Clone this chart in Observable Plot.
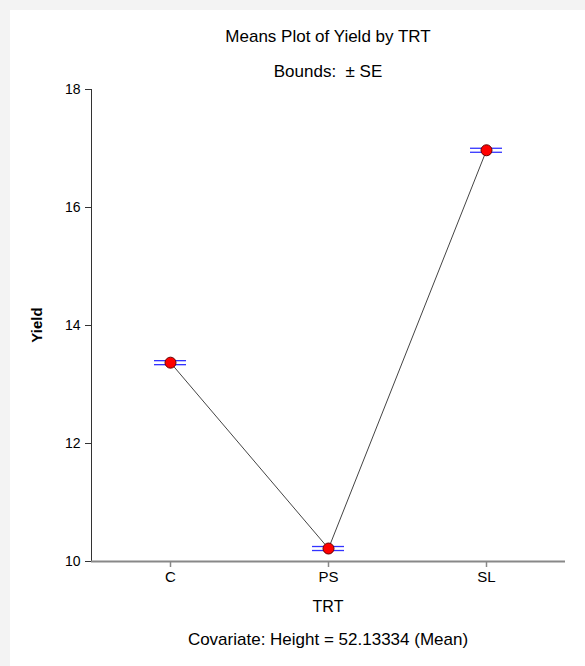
<!DOCTYPE html>
<html><head><meta charset="utf-8">
<script src="https://cdn.jsdelivr.net/npm/d3@7"></script>
<script src="https://cdn.jsdelivr.net/npm/@observablehq/plot@0.6"></script>
<style>
body{margin:0;background:#f3f3f3;font-family:"Liberation Sans",Arial,sans-serif;}
#page{position:relative;width:585px;height:666px;overflow:hidden;}
#panel{position:absolute;left:10px;top:10px;width:575px;height:656px;background:#fff;}
.t{position:absolute;left:91px;width:474px;text-align:center;color:#000;line-height:20px;white-space:nowrap;}
#chart{position:absolute;left:0;top:0;}
#ylab{position:absolute;left:37px;top:325px;transform:translate(-50%,-50%) rotate(-90deg);font-size:15px;font-weight:bold;line-height:18px;white-space:nowrap;}
</style></head><body>
<div id="page">
<div id="panel"></div>
<div id="chart"></div>
<div class="t" style="top:27px;font-size:17px">Means Plot of Yield by TRT</div>
<div class="t" style="top:62px;font-size:17px">Bounds:&nbsp; ± SE</div>
<div class="t" style="top:597px;font-size:16px">TRT</div>
<div class="t" style="top:630px;font-size:17px">Covariate: Height = 52.13334 (Mean)</div>
<div id="ylab">Yield</div>
</div>
<script>
const categories = ["C", "PS", "SL"];
const means = [13.37, 10.22, 16.97];
const se = [0.034, 0.034, 0.034];
const yTicks = [10, 12, 14, 16, 18];

const data = categories.map((c, i) => ({trt: c, mean: means[i], se: se[i]}));

const chart = Plot.plot({
  width: 585,
  height: 666,
  marginLeft: 91,
  marginRight: 20,
  marginTop: 89,
  marginBottom: 105,
  style: {background: "transparent", fontFamily: "'Liberation Sans', Arial, sans-serif", fontSize: "14px", color: "#000"},
  x: {type: "band", domain: categories, paddingInner: 0.797, paddingOuter: 0.3985, align: 0.5, label: null},
  y: {domain: [10, 18], label: null},
  marks: [
    Plot.frame({anchor: "left", stroke: "#333", strokeWidth: 1}),
    Plot.ruleY([10], {stroke: "#888", strokeWidth: 2}),
    Plot.axisY({ticks: yTicks, tickSize: 6, tickPadding: 5, stroke: "#333", fill: "#000", fontSize: 14, label: null}),
    Plot.axisX({tickSize: 6, tickPadding: 4, stroke: "#888", strokeWidth: 1.5, fill: "#000", fontSize: 15, label: null}),
    Plot.line(data, {x: "trt", y: "mean", stroke: "#444", strokeWidth: 1}),
    Plot.tickY(data, {x: "trt", y: d => d.mean + d.se, stroke: "#3333ff", strokeWidth: 1.3}),
    Plot.tickY(data, {x: "trt", y: d => d.mean - d.se, stroke: "#3333ff", strokeWidth: 1.3}),
    Plot.dot(data, {x: "trt", y: "mean", r: 5.5, fill: "#ff0000", stroke: "#600", strokeWidth: 1})
  ]
});
document.getElementById("chart").appendChild(chart);
</script>
</body></html>
